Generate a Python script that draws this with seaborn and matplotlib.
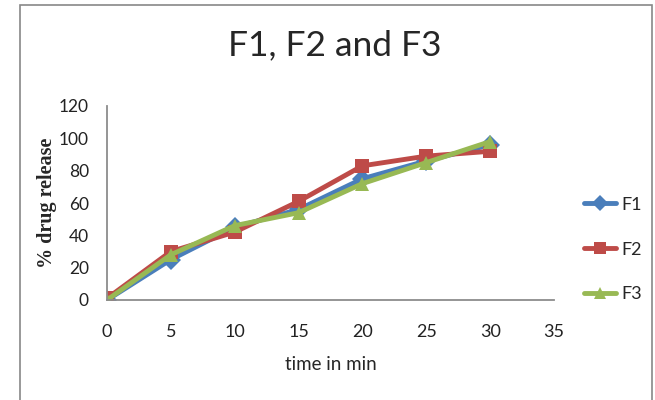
import matplotlib
matplotlib.use("Agg")
import matplotlib.pyplot as plt
import seaborn as sns
import pandas as pd
from matplotlib.patches import Rectangle

time_min = [0, 5, 10, 15, 20, 25, 30]
f1 = [0, 25, 45, 56, 75, 86, 96]
f2 = [1, 30, 42, 61, 83, 89, 92]
f3 = [0, 28, 46, 54, 72, 85, 98]
series_names = ["F1", "F2", "F3"]
x_ticks = [0, 5, 10, 15, 20, 25, 30, 35]
y_ticks = [0, 20, 40, 60, 80, 100, 120]

df = pd.DataFrame({
    "time": time_min * 3,
    "release": f1 + f2 + f3,
    "series": sum([[n] * len(time_min) for n in series_names], []),
})

sns.set_style("white")
plt.rcParams["font.family"] = ["Lato", "DejaVu Sans"]

fig = plt.figure(figsize=(6.55, 4.0), dpi=100)
# outer chart border
fig.patches.append(Rectangle((20 / 655, -0.01), 632 / 655, 395 / 400 + 0.01,
                             transform=fig.transFigure, fill=False,
                             edgecolor="#888888", linewidth=1.2))
ax = fig.add_axes([107 / 655, 100 / 400, 447 / 655, 194 / 400])

palette = {"F1": "#4A7EBB", "F2": "#BE4B48", "F3": "#98B954"}
markers = {"F1": "D", "F2": "s", "F3": "^"}
sns.lineplot(data=df, x="time", y="release", hue="series", style="series",
             palette=palette, markers=markers, dashes=False, linewidth=3.5,
             markersize=10, markeredgewidth=0, ax=ax)

ax.set_xlim(0, 35)
ax.set_ylim(0, 120)
ax.set_xticks(x_ticks)
ax.set_yticks(y_ticks)
ax.tick_params(axis="x", labelsize=13, labelcolor="#222222", length=0, pad=17)
ax.tick_params(axis="y", labelsize=12.5, labelcolor="#222222", length=0, pad=13)
for s in ["top", "right"]:
    ax.spines[s].set_visible(False)
for s in ["left", "bottom"]:
    ax.spines[s].set_color("#8c8c8c")
    ax.spines[s].set_linewidth(1.3)

ax.set_xlabel("time in min", fontsize=13.5, labelpad=12)
ax.set_ylabel("% drug release", fontsize=14.5, fontweight="bold",
              family=["Liberation Serif", "DejaVu Serif"])
ax.yaxis.set_label_coords(-0.112, 0.5)
fig.text(335 / 655, 1 - 45 / 400, "F1, F2 and F3", ha="center", va="center",
         fontsize=25.5)

handles, labels = ax.get_legend_handles_labels()
ax.legend(handles, labels, loc="center left", bbox_to_anchor=(1.03, 0.26),
          frameon=False, fontsize=13, labelspacing=1.6, handlelength=1.8,
          handletextpad=0.3, markerscale=0.8)

fig.savefig("out.png", dpi=100)
